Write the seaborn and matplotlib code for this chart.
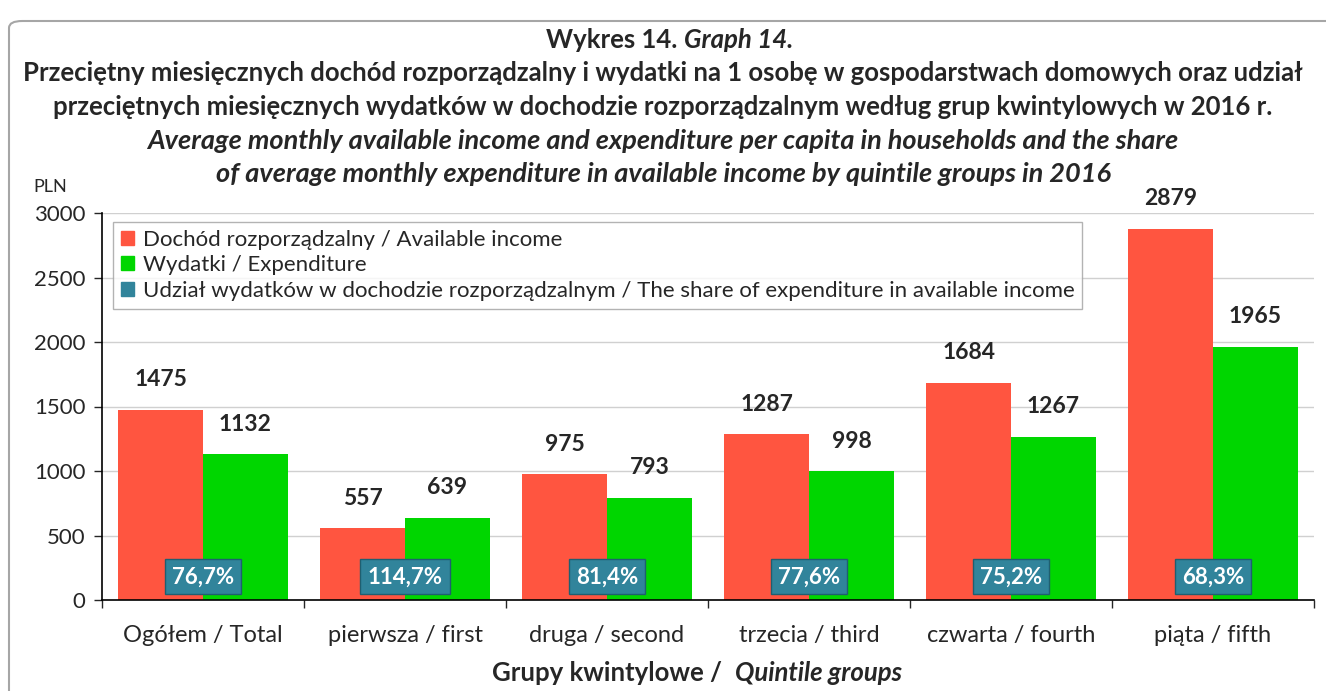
import matplotlib
matplotlib.use("Agg")
import matplotlib.pyplot as plt
import matplotlib.patches as mpatches
import pandas as pd
import seaborn as sns

# data
groups = ["Ogółem / Total", "pierwsza / first", "druga / second",
          "trzecia / third", "czwarta / fourth", "piąta / fifth"]
income = [1475, 557, 975, 1287, 1684, 2879]
expenditure = [1132, 639, 793, 998, 1267, 1965]
share = ["76,7%", "114,7%", "81,4%", "77,6%", "75,2%", "68,3%"]

series_names = ["Dochód rozporządzalny / Available income", "Wydatki / Expenditure"]
share_name = "Udział wydatków w dochodzie rozporządzalnym / The share of expenditure in available income"

red = "#FF5540"
green = "#00D600"
teal = "#31849B"

df = pd.DataFrame({
    "group": groups * 2,
    "series": [series_names[0]] * len(groups) + [series_names[1]] * len(groups),
    "value": income + expenditure,
})

sns.set_style("white")
plt.rcParams["font.family"] = ["Lato", "DejaVu Sans"]

W, H = 1326, 691
fig = plt.figure(figsize=(W / 100, H / 100), dpi=100)
ax = fig.add_axes([102 / W, 91 / H, 1212 / W, 387 / H])

sns.barplot(data=df, x="group", y="value", hue="series", order=groups,
            hue_order=series_names, palette=[red, green], width=0.84,
            saturation=1, edgecolor="none", legend=False, ax=ax)

ax.set_ylim(0, 3000)
ax.set_xlim(-0.5, len(groups) - 0.5)
ax.set_yticks(range(0, 3001, 500))
ax.yaxis.grid(True, color="#D0D0D0", lw=1)
ax.set_axisbelow(True)
ax.tick_params(axis="y", labelsize=16, length=6, width=1, direction="out", left=True, pad=6)
ax.tick_params(axis="x", which="major", labelsize=17, length=0, pad=18)
ax.set_xticks([i - 0.5 for i in range(len(groups) + 1)], minor=True)
ax.tick_params(axis="x", which="minor", length=6, width=1, bottom=True, direction="out")
for s in ["top", "right"]:
    ax.spines[s].set_visible(False)
for s in ["left", "bottom"]:
    ax.spines[s].set_color("black")
    ax.spines[s].set_linewidth(1.2)
ax.set_xlabel("")
ax.set_ylabel("")

# value labels above bars
for container in ax.containers:
    ax.bar_label(container, fmt="%d", padding=14, fontsize=16.5, fontweight="bold")

# share boxes
for i, s in enumerate(share):
    ax.text(i, 0.06, s, transform=ax.get_xaxis_transform(), ha="center", va="center",
            color="white", fontsize=16, fontweight="bold",
            bbox=dict(boxstyle="square,pad=0.32", fc=teal, ec="#1F5F70", lw=1))

# legend
handles = [mpatches.Patch(color=red), mpatches.Patch(color=green), mpatches.Patch(color=teal)]
leg = ax.legend(handles, series_names + [share_name], loc="upper left",
                bbox_to_anchor=(0.009, 0.977), fontsize=16, frameon=True, fancybox=False,
                edgecolor="#A0A0A0", handlelength=0.6, handleheight=0.6, handletextpad=0.4,
                labelspacing=0.25, borderpad=0.35, borderaxespad=0)
leg.get_frame().set_linewidth(1)

# titles
bfs = 18.5
ifs = 19.5
fig.text(684 / W, 1 - 40 / H, "Wykres 14. ", ha="right", va="center",
         fontsize=bfs, fontweight="bold")
fig.text(684 / W, 1 - 40 / H, "Graph 14.", ha="left", va="center",
         fontsize=bfs, fontweight="bold", style="italic")
fig.text(0.5, 1 - 73 / H,
         "Przeciętny miesięcznych dochód rozporządzalny i wydatki na 1 osobę w gospodarstwach domowych oraz udział",
         ha="center", va="center", fontsize=bfs, fontweight="bold")
fig.text(0.5, 1 - 107 / H,
         "przeciętnych miesięcznych wydatków w dochodzie rozporządzalnym według grup kwintylowych w 2016 r.",
         ha="center", va="center", fontsize=bfs, fontweight="bold")
fig.text(0.5, 1 - 141 / H,
         "Average monthly available income and expenditure per capita in households and the share",
         ha="center", va="center", fontsize=ifs, fontweight="bold", style="italic")
fig.text(0.5, 1 - 174 / H,
         "of average monthly expenditure in available income by quintile groups in 2016",
         ha="center", va="center", fontsize=ifs, fontweight="bold", style="italic")

fig.text(50 / W, 1 - 187 / H, "PLN", ha="center", va="center", fontsize=13)

# x axis title
fig.text(735 / W, 1 - 673 / H, "Grupy kwintylowe /  ", ha="right", va="center",
         fontsize=18.5, fontweight="bold")
fig.text(735 / W, 1 - 673 / H, "Quintile groups", ha="left", va="center",
         fontsize=18.5, fontweight="bold", style="italic")

# chart area border
border = mpatches.FancyBboxPatch((9 / W, -20 / H), 1340 / W, 690 / H,
                                 boxstyle="round,pad=0,rounding_size=0.01",
                                 transform=fig.transFigure, fill=False,
                                 ec="#A6A6A6", lw=1.5, clip_on=False)
fig.patches.append(border)

fig.savefig("out.png", dpi=100)
